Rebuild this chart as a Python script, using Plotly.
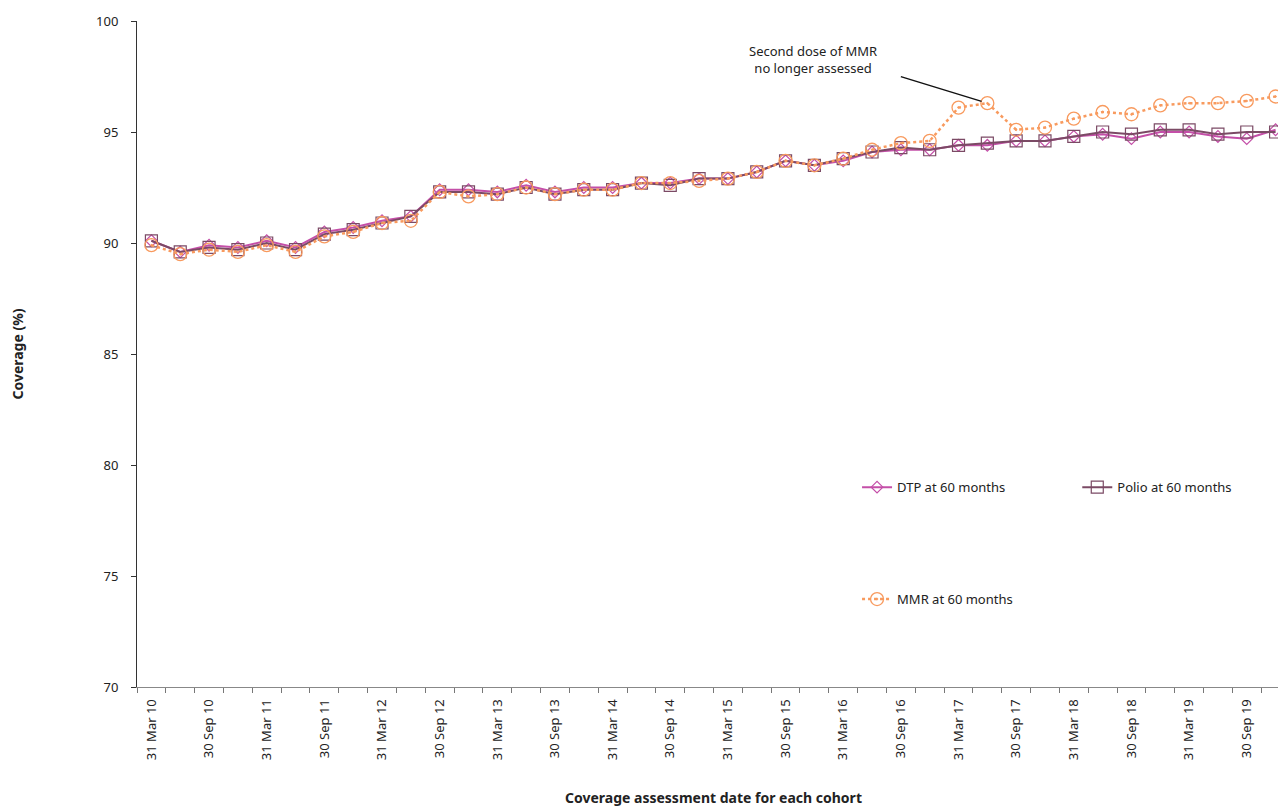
import plotly.graph_objects as go

dates = []
for yr in range(10, 20):
    for q in ["31 Mar", "30 Jun", "30 Sep", "31 Dec"]:
        dates.append(f"{q} {yr}")

dtp = [90.1, 89.6, 89.9, 89.8, 90.1, 89.8, 90.5, 90.7, 91.0, 91.2,
       92.4, 92.4, 92.3, 92.6, 92.3, 92.5, 92.5, 92.7, 92.7, 92.9,
       92.9, 93.2, 93.7, 93.5, 93.7, 94.1, 94.2, 94.2, 94.4, 94.4,
       94.6, 94.6, 94.8, 94.9, 94.7, 95.0, 95.0, 94.8, 94.7, 95.1]
polio = [90.1, 89.6, 89.8, 89.7, 90.0, 89.7, 90.4, 90.6, 90.9, 91.2,
         92.3, 92.3, 92.2, 92.5, 92.2, 92.4, 92.4, 92.7, 92.6, 92.9,
         92.9, 93.2, 93.7, 93.5, 93.8, 94.1, 94.3, 94.2, 94.4, 94.5,
         94.6, 94.6, 94.8, 95.0, 94.9, 95.1, 95.1, 94.9, 95.0, 95.0]
mmr = [89.9, 89.5, 89.7, 89.6, 89.9, 89.6, 90.3, 90.5, 90.9, 91.0,
       92.3, 92.1, 92.2, 92.5, 92.2, 92.4, 92.4, 92.7, 92.7, 92.8,
       92.9, 93.2, 93.7, 93.5, 93.8, 94.2, 94.5, 94.6, 96.1, 96.3,
       95.1, 95.2, 95.6, 95.9, 95.8, 96.2, 96.3, 96.3, 96.4, 96.6]

tick_text = [d if ("Mar" in d or "Sep" in d) else "" for d in dates]

FONT = "Noto Sans"
C_DTP = "#C44FA8"
C_POLIO = "#7B4A65"
C_MMR = "#F89A5E"

fig = go.Figure()
fig.add_trace(go.Scatter(
    x=dates, y=dtp, name="DTP at 60 months", mode="lines+markers",
    line=dict(color=C_DTP, width=2),
    marker=dict(symbol="diamond-open", size=9, color=C_DTP, line=dict(width=1.2)),
    legend="legend"))
fig.add_trace(go.Scatter(
    x=dates, y=polio, name="Polio at 60 months", mode="lines+markers",
    line=dict(color=C_POLIO, width=2),
    marker=dict(symbol="square-open", size=12, color=C_POLIO, line=dict(width=1.2)),
    legend="legend3"))
fig.add_trace(go.Scatter(
    x=dates, y=mmr, name="MMR at 60 months", mode="lines+markers",
    line=dict(color=C_MMR, width=2.5, dash="dot"),
    marker=dict(symbol="circle-open-dot", size=13, color=C_MMR, line=dict(width=1.3)),
    legend="legend2"))

fig.add_annotation(
    x=dates[29], y=mmr[29], xref="x", yref="y",
    text="", showarrow=True, arrowhead=0, arrowwidth=1.5, arrowcolor="#111111",
    ax=-88, ay=-27, standoff=6)
fig.add_annotation(
    x=dates[29], y=mmr[29], xref="x", yref="y",
    text="Second dose of MMR<br>no longer assessed", showarrow=False,
    xshift=-174, yshift=44, font=dict(family=FONT, size=13, color="#222222"),
    align="center")

leg_common = dict(orientation="h", xanchor="left", yanchor="middle",
                  bgcolor="rgba(0,0,0,0)", font=dict(size=13))
fig.update_layout(
    width=1286, height=807,
    margin=dict(l=126, r=4, t=13, b=128),
    paper_bgcolor="white", plot_bgcolor="white",
    font=dict(family=FONT, size=13, color="#222222"),
    legend=dict(x=0.6245, y=0.30, **leg_common),
    legend3=dict(x=0.8155, y=0.30, **leg_common),
    legend2=dict(x=0.6245, y=0.132, **leg_common),
    showlegend=True,
)
fig.update_xaxes(
    type="category", categoryorder="array", categoryarray=dates,
    range=[-0.5, len(dates) - 0.5],
    tickmode="array", tickvals=dates, ticktext=tick_text,
    tickangle=-90, tickson="boundaries", ticks="outside", ticklen=5,
    tickcolor="#777777", showline=True, linecolor="#888888", linewidth=1,
    showgrid=False, zeroline=False, tickfont=dict(size=13),
    ticklabelstandoff=6,
    title=dict(text="<b>Coverage assessment date for each cohort</b>",
               font=dict(size=14), standoff=34))
fig.update_yaxes(
    range=[70, 100], dtick=5, ticks="outside", ticklen=5, tickcolor="#333333",
    showline=True, linecolor="#333333", linewidth=1, showgrid=False,
    zeroline=False, tickfont=dict(size=13), ticklabelstandoff=10,
    title=dict(text="<b>Coverage (%)</b>", font=dict(size=14), standoff=74))

fig.write_html("out.html")
